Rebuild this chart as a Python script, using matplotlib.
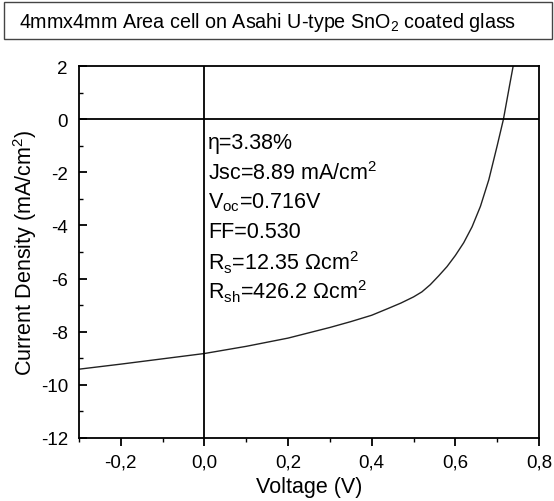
import matplotlib
matplotlib.use("Agg")
import matplotlib.pyplot as plt
from matplotlib.ticker import MultipleLocator, FuncFormatter
from matplotlib.patches import Rectangle

plt.rcParams['font.family'] = ['Liberation Sans', 'DejaVu Sans']
plt.rcParams['mathtext.fontset'] = 'custom'
plt.rcParams['mathtext.rm'] = 'Liberation Sans'
plt.rcParams['mathtext.it'] = 'Liberation Sans'

voltage = [-0.30, -0.20, -0.10, 0.00, 0.10, 0.20, 0.30, 0.35, 0.40, 0.44, 0.47, 0.50, 0.52, 0.54,
           0.56, 0.58, 0.60, 0.62, 0.64, 0.66, 0.68, 0.70, 0.715, 0.73, 0.74]
current = [-9.41, -9.22, -9.02, -8.82, -8.55, -8.24, -7.84, -7.62, -7.38, -7.12, -6.92, -6.69, -6.50, -6.23,
           -5.90, -5.55, -5.13, -4.65, -4.05, -3.28, -2.28, -1.00, 0.00, 1.30, 2.15]

title = "4mmx4mm Area cell on Asahi U-type SnO$_2$ coated glass"
params = ["η=3.38%", "Jsc=8.89 mA/cm$^2$", "V$_{oc}$=0.716V", "FF=0.530",
          "R$_s$=12.35 Ωcm$^2$", "R$_{sh}$=426.2 Ωcm$^2$"]

W, H = 554, 502
fig = plt.figure(figsize=(W / 100, H / 100), dpi=100)
ax = fig.add_axes([79 / W, 1 - 439 / H, (539 - 79) / W, (439 - 67) / H])

ax.plot(voltage, current, color='#222222', lw=1.0)
ax.axhline(0, color='black', lw=1.3)
ax.axvline(0, color='black', lw=1.3)

ax.set_xlim(-0.3, 0.8)
ax.set_ylim(-12, 2)
ax.xaxis.set_major_locator(MultipleLocator(0.2))
ax.xaxis.set_minor_locator(MultipleLocator(0.1))
ax.yaxis.set_major_locator(MultipleLocator(2))
ax.yaxis.set_minor_locator(MultipleLocator(1))
ax.xaxis.set_major_formatter(FuncFormatter(lambda v, p: f"{v:.1f}".replace('.', ',').replace('-0,0', '0,0')))
ax.yaxis.set_major_formatter(FuncFormatter(lambda v, p: f"{int(round(v))}"))
ax.tick_params(axis='x', which='major', direction='out', length=6, width=1.3, labelsize=13.5, pad=5)
ax.tick_params(axis='x', which='minor', direction='out', length=3, width=1.0)
ax.tick_params(axis='y', which='major', direction='in', length=6, width=1.3, labelsize=13.5, pad=8)
ax.tick_params(axis='y', which='minor', direction='in', length=3, width=1.0)
for s in ax.spines.values():
    s.set_linewidth(1.3)

ax.set_xlabel("Voltage (V)", fontsize=15.5, labelpad=4)
ax.set_ylabel("Current Density (mA/cm$^2$)", fontsize=15.5, labelpad=1)

y0 = 144
for i, t in enumerate(params):
    fig.text(208 / W, 1 - (y0 + i * 29.6) / H, t, fontsize=15.5, va='center', ha='left')

fig.patches.append(Rectangle((4 / W, 1 - 40 / H), (552 - 4) / W, 37 / H, transform=fig.transFigure,
                             fill=False, edgecolor='#444444', lw=1.0))
fig.text(268 / W, 1 - 22 / H, title, fontsize=14.2, ha='center', va='center')

fig.savefig("out.png", dpi=100)
